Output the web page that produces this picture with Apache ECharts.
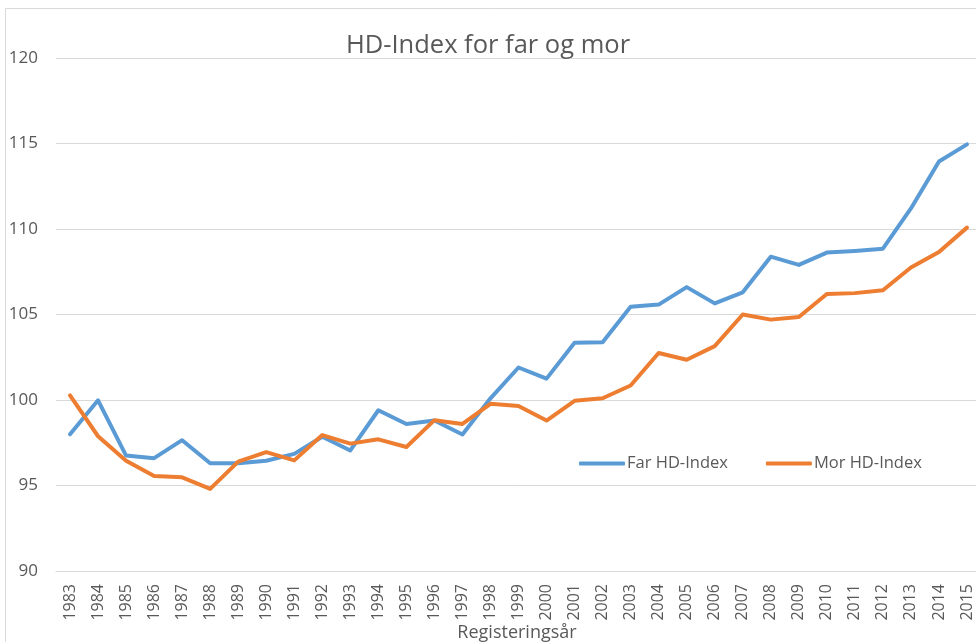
<!DOCTYPE html>
<html>
<head>
<meta charset="utf-8">
<script src="https://cdn.jsdelivr.net/npm/echarts@6/dist/echarts.min.js"></script>
<style>
  html, body { margin: 0; padding: 0; background: #fff; }
  #chart { width: 976px; height: 642px; }
</style>
</head>
<body>
<div id="chart"></div>
<script>
// registreringsår
var years = ['1983', '1984', '1985', '1986', '1987', '1988', '1989', '1990', '1991', '1992', '1993',
  '1994', '1995', '1996', '1997', '1998', '1999', '2000', '2001', '2002', '2003', '2004',
  '2005', '2006', '2007', '2008', '2009', '2010', '2011', '2012', '2013', '2014', '2015'];

var farIndex = [98.0, 99.98, 96.75, 96.6, 97.65, 96.3, 96.3, 96.45, 96.85, 97.85, 97.05,
  99.4, 98.6, 98.8, 97.98, 100.1, 101.9, 101.25, 103.35, 103.38, 105.45, 105.58,
  106.6, 105.65, 106.3, 108.38, 107.9, 108.62, 108.72, 108.85, 111.2, 113.95, 114.95];

var morIndex = [100.27, 97.88, 96.45, 95.55, 95.48, 94.8, 96.4, 96.95, 96.47, 97.95, 97.45,
  97.7, 97.25, 98.82, 98.6, 99.78, 99.65, 98.8, 99.95, 100.1, 100.85, 102.75,
  102.35, 103.15, 105.0, 104.7, 104.85, 106.2, 106.25, 106.42, 107.75, 108.65, 110.08];

var yTicks = { min: 90, max: 120, step: 5 };

var chart = echarts.init(document.getElementById('chart'));

var option = {
  animation: false,
  textStyle: { fontFamily: 'Open Sans, Noto Sans, sans-serif', color: '#595959' },
  title: {
    text: 'HD-Index for far og mor',
    left: 'center',
    top: 28,
    textStyle: { fontSize: 25.5, fontWeight: 'normal', color: '#595959' }
  },
  graphic: [
    // ramme rundt diagrammet
    {
      type: 'rect',
      shape: { x: 5.5, y: 8.5, width: 1000, height: 700 },
      style: { fill: 'none', stroke: '#d9d9d9', lineWidth: 1 },
      silent: true
    },
    // aksetittel
    {
      type: 'text',
      x: 517,
      y: 633,
      style: {
        text: 'Registeringsår',
        fill: '#595959',
        font: '18px "Open Sans", "Noto Sans", sans-serif',
        align: 'center',
        verticalAlign: 'middle'
      },
      silent: true
    }
  ],
  legend: {
    left: 574,
    top: 450,
    itemWidth: 46,
    itemHeight: 4,
    itemGap: 38,
    icon: 'roundRect',
    textStyle: { fontSize: 16.5, color: '#595959', padding: [0, 0, 0, -3] },
    data: ['Far HD-Index', 'Mor HD-Index']
  },
  grid: {
    left: 56,
    top: 58,
    width: 925,
    height: 513,
    outerBoundsMode: 'none',
    containLabel: false
  },
  xAxis: {
    type: 'category',
    data: years,
    boundaryGap: true,
    axisLine: { lineStyle: { color: '#d9d9d9', width: 1 } },
    axisTick: { show: false },
    axisLabel: { rotate: 90, fontSize: 16, color: '#595959', margin: 13, interval: 0 }
  },
  yAxis: {
    type: 'value',
    min: yTicks.min,
    max: yTicks.max,
    interval: yTicks.step,
    axisLine: { show: false },
    axisTick: { show: false },
    axisLabel: { fontSize: 17, color: '#595959', margin: 18 },
    splitLine: { lineStyle: { color: '#d9d9d9', width: 1 } }
  },
  series: [
    {
      name: 'Far HD-Index',
      type: 'line',
      data: farIndex,
      symbol: 'none',
      color: '#5b9bd5',
      lineStyle: { width: 4, color: '#5b9bd5', cap: 'round', join: 'round' }
    },
    {
      name: 'Mor HD-Index',
      type: 'line',
      data: morIndex,
      symbol: 'none',
      color: '#ed7d31',
      lineStyle: { width: 4, color: '#ed7d31', cap: 'round', join: 'round' }
    }
  ]
};

chart.setOption(option);
</script>
</body>
</html>
